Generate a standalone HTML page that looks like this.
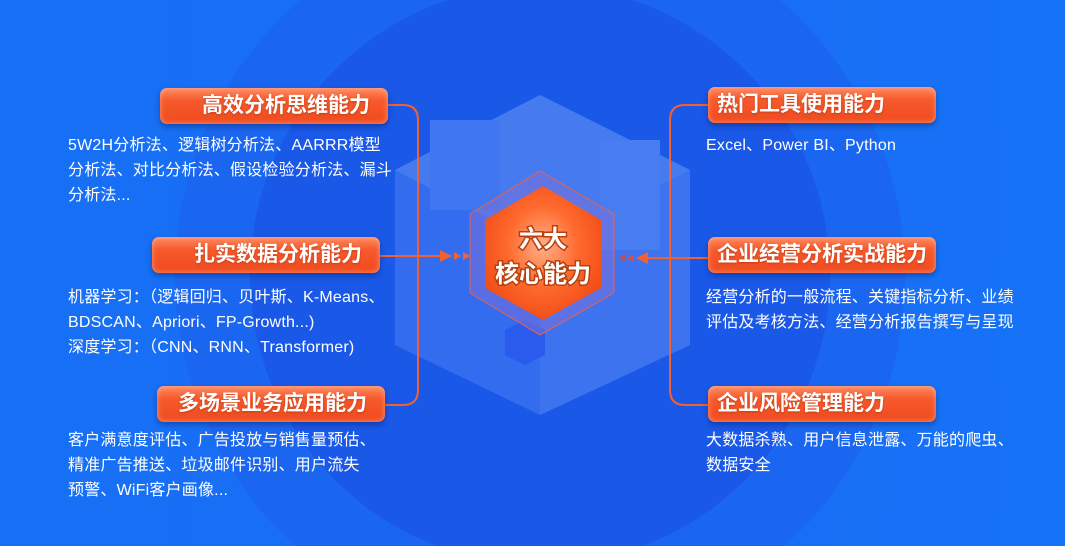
<!DOCTYPE html>
<html><head><meta charset="utf-8"><style>
*{margin:0;padding:0;box-sizing:border-box}
html,body{width:1065px;height:546px;overflow:hidden}
body{background:linear-gradient(90deg,#1670f5,#1a6cf4 50%,#1672f6);position:relative;font-family:"Liberation Sans","Noto Sans CJK SC",sans-serif}
.pill{position:absolute;height:36px;width:228px;border-radius:7px;background:linear-gradient(180deg,#ff8a62 0%,#f65a2c 35%,#f04a1f 100%);box-shadow:0 3px 6px rgba(0,0,40,.3),inset 0 0 6px rgba(255,200,170,.6);color:#fff;font-weight:bold;font-size:21px;line-height:36px;text-shadow:0 1px 2px rgba(150,40,0,.5);white-space:nowrap}
.l{text-align:right;padding-right:18px}
.r{text-align:left;padding-left:9px}
.d{position:absolute;color:#fff;font-size:16px;line-height:25px;white-space:nowrap;letter-spacing:.2px}
</style></head><body>
<svg width="1065" height="546" style="position:absolute;left:0;top:0">
<defs><radialGradient id="hg" cx="50%" cy="45%" r="60%"><stop offset="0" stop-color="#ffb08a"/><stop offset=".5" stop-color="#ff6a2e"/><stop offset="1" stop-color="#f04a14"/></radialGradient></defs>
<circle cx="540" cy="275" r="365" fill="#1b66f0"/>
<circle cx="540" cy="275" r="290" fill="#1a58e8"/>
<g opacity=".55">
<polygon points="540,95 690,170 690,345 540,415 395,345 395,170" fill="#4a7ef5"/>
<polygon points="540,95 690,170 540,245 395,170" fill="#6a98f8"/>
<polygon points="540,245 690,170 690,345 540,415" fill="#5a8af5"/>
<rect x="430" y="120" width="70" height="90" fill="#5f8ff8"/>
<rect x="600" y="140" width="60" height="110" fill="#6e9cfa"/>
<polygon points="505,330 525,320 545,330 545,355 525,365 505,355" fill="#3a5ef0"/>
</g>
<g fill="none" stroke="#f4602e" stroke-width="2">
<path d="M387,105 H403 Q418,105 418,120 V390 Q418,405 403,405 H384"/>
<line x1="379" y1="256" x2="440" y2="256"/>
<path d="M708,105 H685 Q670,105 670,120 V390 Q670,405 685,405 H708"/>
<line x1="708" y1="258" x2="645" y2="258"/>
</g>
<polygon points="440,250 452,256 440,262" fill="#f4602e"/>
<polygon points="454,252 461,256 454,260" fill="#f4602e"/>
<polygon points="463,252 470,256 463,260" fill="#f4602e"/>
<polygon points="648,252 636,258 648,264" fill="#f4602e"/>
<polygon points="634,254 627,258 634,262" fill="#d05050"/>
<polygon points="625,254 618,258 625,262" fill="#b05070"/>
<polygon points="540,171 614,214 614,293 540,335 470,293 470,214" fill="#7b6fd8" fill-opacity=".55" stroke="#f06040" stroke-width="1"/>
<polygon points="543,186 601,220 601,288 543,320 485,288 485,220" fill="url(#hg)"/>
<g font-weight="bold" font-size="24" fill="#fff" stroke="#b8400c" stroke-width="3" paint-order="stroke" text-anchor="middle" font-family="Liberation Sans,Noto Sans CJK SC,sans-serif">
<text x="543" y="247">六大</text><text x="543" y="282">核心能力</text></g>
</svg>
<div class="pill l" style="left:160px;top:88px">高效分析思维能力</div>
<div class="pill l" style="left:152px;top:237px">扎实数据分析能力</div>
<div class="pill l" style="left:157px;top:386px">多场景业务应用能力</div>
<div class="pill r" style="left:708px;top:87px">热门工具使用能力</div>
<div class="pill r" style="left:708px;top:237px">企业经营分析实战能力</div>
<div class="pill r" style="left:708px;top:386px">企业风险管理能力</div>
<div class="d" style="left:68px;top:133px">5W2H分析法、逻辑树分析法、AARRR模型<br>分析法、对比分析法、假设检验分析法、漏斗<br>分析法...</div>
<div class="d" style="left:68px;top:285px">机器学习：（逻辑回归、贝叶斯、K-Means、<br>BDSCAN、Apriori、FP-Growth...)<br>深度学习：（CNN、RNN、Transformer)</div>
<div class="d" style="left:68px;top:428px">客户满意度评估、广告投放与销售量预估、<br>精准广告推送、垃圾邮件识别、用户流失<br>预警、WiFi客户画像...</div>
<div class="d" style="left:706px;top:133px">Excel、Power BI、Python</div>
<div class="d" style="left:706px;top:285px">经营分析的一般流程、关键指标分析、业绩<br>评估及考核方法、经营分析报告撰写与呈现</div>
<div class="d" style="left:706px;top:428px">大数据杀熟、用户信息泄露、万能的爬虫、<br>数据安全</div>
</body></html>
